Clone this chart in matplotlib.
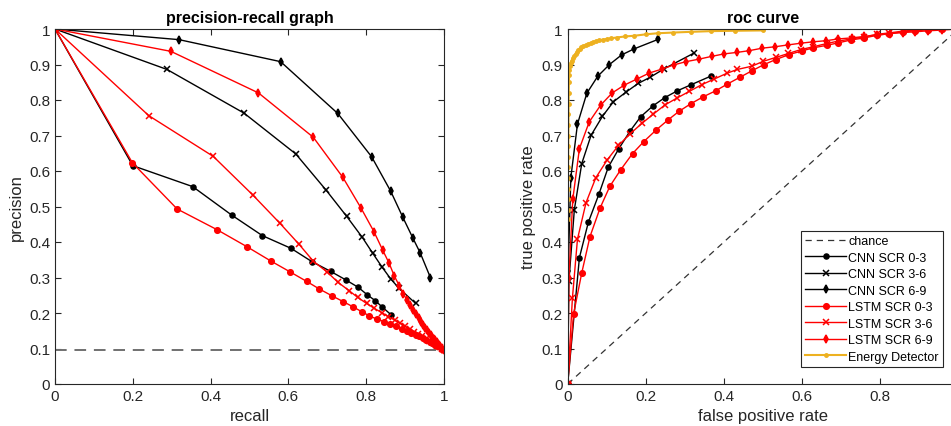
import numpy as np
import matplotlib
matplotlib.use("Agg")
import matplotlib.pyplot as plt

plt.rcParams['font.family'] = ['Liberation Sans', 'DejaVu Sans']

# precision-recall values
pr_cnn03_r = [0, 0.200, 0.354, 0.454, 0.533, 0.607, 0.660, 0.709, 0.748, 0.780, 0.803, 0.823, 0.840, 0.864]
pr_cnn03_p = [1, 0.615, 0.556, 0.476, 0.418, 0.382, 0.345, 0.317, 0.293, 0.272, 0.251, 0.235, 0.218, 0.195]

pr_cnn36_r = [0, 0.288, 0.486, 0.619, 0.697, 0.750, 0.790, 0.817, 0.841, 0.863, 0.884, 0.927]
pr_cnn36_p = [1, 0.886, 0.763, 0.648, 0.546, 0.472, 0.413, 0.368, 0.329, 0.296, 0.270, 0.227]

pr_cnn69_r = [0, 0.319, 0.580, 0.727, 0.814, 0.863, 0.894, 0.920, 0.939, 0.965]
pr_cnn69_p = [1, 0.970, 0.908, 0.762, 0.640, 0.543, 0.470, 0.411, 0.369, 0.300]

pr_lstm03_r = [0, 0.199, 0.314, 0.416, 0.493, 0.554, 0.604, 0.647, 0.679, 0.711, 0.741, 0.765,
               0.788, 0.808, 0.827, 0.846, 0.862, 0.877, 0.891, 0.904, 0.916, 0.927, 0.937,
               0.946, 0.955, 0.963, 0.970, 0.977, 0.983, 0.989, 0.994, 1.0]
pr_lstm03_p = [1, 0.623, 0.493, 0.435, 0.387, 0.347, 0.316, 0.289, 0.268, 0.249, 0.232, 0.218,
               0.204, 0.192, 0.183, 0.176, 0.169, 0.162, 0.156, 0.150, 0.144, 0.139, 0.134,
               0.129, 0.124, 0.119, 0.115, 0.111, 0.107, 0.103, 0.099, 0.095]

pr_lstm36_r = [0, 0.241, 0.407, 0.508, 0.578, 0.627, 0.664, 0.700, 0.728, 0.756, 0.778, 0.801,
               0.821, 0.840, 0.857, 0.873, 0.888, 0.901, 0.913, 0.924, 0.934, 0.944, 0.953,
               0.961, 0.969, 0.976, 0.983, 0.989, 0.995, 1.0]
pr_lstm36_p = [1, 0.756, 0.641, 0.533, 0.453, 0.394, 0.346, 0.315, 0.286, 0.263, 0.244, 0.227,
               0.213, 0.201, 0.190, 0.180, 0.171, 0.162, 0.154, 0.147, 0.140, 0.134, 0.128,
               0.122, 0.117, 0.112, 0.107, 0.103, 0.099, 0.095]

pr_lstm69_r = [0, 0.298, 0.523, 0.664, 0.740, 0.787, 0.820, 0.842, 0.859, 0.872, 0.885, 0.895,
               0.905, 0.913, 0.921, 0.928, 0.935, 0.941, 0.947, 0.952, 0.957, 0.962, 0.966,
               0.970, 0.974, 0.978, 0.981, 0.984, 0.987, 0.990, 0.993, 0.996, 1.0]
pr_lstm69_p = [1, 0.937, 0.820, 0.695, 0.582, 0.495, 0.429, 0.378, 0.340, 0.305, 0.277, 0.254,
               0.237, 0.222, 0.209, 0.197, 0.186, 0.176, 0.167, 0.159, 0.152, 0.145, 0.139,
               0.133, 0.128, 0.123, 0.118, 0.114, 0.110, 0.106, 0.102, 0.099, 0.095]

pr_chance = 0.095

# roc values
roc_cnn03_f = [0, 0.030, 0.053, 0.080, 0.104, 0.131, 0.160, 0.187, 0.219, 0.249, 0.281, 0.316, 0.366]
roc_cnn03_t = [0, 0.356, 0.456, 0.535, 0.611, 0.663, 0.713, 0.753, 0.784, 0.807, 0.826, 0.843, 0.867]

roc_cnn36_f = [0, 0.003, 0.017, 0.036, 0.060, 0.089, 0.117, 0.149, 0.181, 0.211, 0.247, 0.323]
roc_cnn36_t = [0, 0.289, 0.491, 0.621, 0.701, 0.754, 0.795, 0.822, 0.847, 0.864, 0.888, 0.932]

roc_cnn69_f = [0, 0.001, 0.008, 0.025, 0.049, 0.077, 0.107, 0.138, 0.170, 0.232]
roc_cnn69_t = [0, 0.318, 0.581, 0.732, 0.819, 0.867, 0.900, 0.927, 0.944, 0.971]

roc_lstm03_f = [0, 0.015, 0.036, 0.057, 0.083, 0.108, 0.136, 0.166, 0.195, 0.226, 0.256, 0.285,
                0.316, 0.347, 0.379, 0.409, 0.441, 0.473, 0.503, 0.533, 0.567, 0.599, 0.629,
                0.663, 0.693, 0.725, 0.760, 0.791, 0.824, 0.858, 0.889, 0.923, 0.958, 1.0]
roc_lstm03_t = [0, 0.197, 0.313, 0.415, 0.496, 0.557, 0.604, 0.649, 0.683, 0.715, 0.743, 0.768,
                0.790, 0.809, 0.826, 0.845, 0.864, 0.883, 0.900, 0.914, 0.928, 0.938, 0.947,
                0.954, 0.961, 0.969, 0.975, 0.982, 0.987, 0.992, 0.995, 0.998, 0.999, 1.0]

roc_lstm36_f = [0, 0.012, 0.025, 0.047, 0.072, 0.101, 0.130, 0.160, 0.191, 0.219, 0.249, 0.279,
                0.311, 0.343, 0.375, 0.407, 0.434, 0.471, 0.501, 0.533, 0.565, 0.597, 0.629,
                0.663, 0.693, 0.727, 0.760, 0.791, 0.824, 0.858, 0.889, 0.923, 0.958, 1.0]
roc_lstm36_t = [0, 0.241, 0.408, 0.511, 0.581, 0.631, 0.672, 0.705, 0.735, 0.760, 0.786, 0.805,
                0.824, 0.843, 0.859, 0.875, 0.886, 0.895, 0.909, 0.920, 0.931, 0.942, 0.950,
                0.959, 0.966, 0.972, 0.978, 0.985, 0.989, 0.994, 0.997, 0.999, 1.0, 1.0]

roc_lstm69_f = [0, 0.003, 0.013, 0.030, 0.055, 0.084, 0.114, 0.145, 0.177, 0.209, 0.241, 0.272,
                0.303, 0.336, 0.369, 0.401, 0.433, 0.465, 0.498, 0.531, 0.563, 0.597, 0.629,
                0.661, 0.693, 0.727, 0.760, 0.791, 0.825, 0.858, 0.889, 0.923, 0.958, 1.0]
roc_lstm69_t = [0, 0.298, 0.520, 0.663, 0.738, 0.785, 0.820, 0.842, 0.859, 0.876, 0.887, 0.899,
                0.908, 0.915, 0.923, 0.930, 0.934, 0.939, 0.946, 0.950, 0.955, 0.960, 0.964,
                0.967, 0.972, 0.975, 0.979, 0.983, 0.987, 0.990, 0.992, 0.995, 0.997, 1.0]

roc_energy_f = [0.0, 0.0002, 0.0004, 0.0006, 0.0008, 0.0010, 0.0012, 0.0014, 0.0016, 0.0018,
                0.0020, 0.0023, 0.0026, 0.0030, 0.0035, 0.0040, 0.006, 0.008, 0.010, 0.013,
                0.017, 0.020, 0.023, 0.027, 0.031, 0.035, 0.040, 0.046, 0.053, 0.060, 0.066,
                0.073, 0.080, 0.090, 0.100, 0.112, 0.125, 0.147, 0.171, 0.200, 0.230, 0.270,
                0.315, 0.367, 0.428, 0.501]
roc_energy_t = [0.465, 0.49, 0.52, 0.55, 0.58, 0.61, 0.64, 0.67, 0.70, 0.73,
                0.76, 0.79, 0.82, 0.85, 0.87, 0.885, 0.895, 0.905, 0.911, 0.918,
                0.925, 0.930, 0.935, 0.940, 0.944, 0.948, 0.952, 0.955, 0.958, 0.961, 0.963,
                0.966, 0.968, 0.970, 0.972, 0.974, 0.976, 0.979, 0.981, 0.985, 0.988, 0.990,
                0.992, 0.994, 0.995, 0.996]

labels = ['CNN SCR 0-3', 'CNN SCR 3-6', 'CNN SCR 6-9',
          'LSTM SCR 0-3', 'LSTM SCR 3-6', 'LSTM SCR 6-9']

RED = '#ff0000'
YEL = '#edb120'
AX = '#262626'
styles = [('k', 'o', 3.6), ('k', 'x', 5), ('k', 'd', 4),
          (RED, 'o', 4), (RED, 'x', 5), (RED, 'd', 4)]


def style_axes(ax):
    ax.tick_params(direction='in', length=4, width=0.8, colors=AX, labelsize=11,
                   top=True, right=True, labelcolor=AX)
    for s in ax.spines.values():
        s.set_color(AX)
        s.set_linewidth(0.8)


fig = plt.figure(figsize=(9.51, 4.27), dpi=100)

# precision-recall graph
ax1 = fig.add_axes([55/951, 42/427, 389/951, 355/427])
pr_r = [pr_cnn03_r, pr_cnn36_r, pr_cnn69_r, pr_lstm03_r, pr_lstm36_r, pr_lstm69_r]
pr_p = [pr_cnn03_p, pr_cnn36_p, pr_cnn69_p, pr_lstm03_p, pr_lstm36_p, pr_lstm69_p]
ax1.plot([0, 1], [pr_chance, pr_chance], color='#707070', lw=1.4, dashes=(6, 4))
for (c, m, ms), r, p in zip(styles, pr_r, pr_p):
    ax1.plot(r, p, color=c, marker=m, ms=ms, lw=1.0, mew=1.1)
ax1.set_xlim(0, 1)
ax1.set_ylim(0, 1)
ax1.set_xticks(np.arange(0, 1.01, 0.2))
ax1.set_yticks(np.arange(0, 1.01, 0.1))
ax1.xaxis.set_major_formatter(matplotlib.ticker.FormatStrFormatter('%g'))
ax1.yaxis.set_major_formatter(matplotlib.ticker.FormatStrFormatter('%g'))
style_axes(ax1)
ax1.set_xlabel('recall', fontsize=12, color=AX)
ax1.set_ylabel('precision', fontsize=12, color=AX)
ax1.set_title('precision-recall graph', fontsize=11.5, fontweight='bold', pad=5)

# roc curve
ax2 = fig.add_axes([567.7/951, 42/427, 390.5/951, 355/427])
roc_f = [roc_cnn03_f, roc_cnn36_f, roc_cnn69_f, roc_lstm03_f, roc_lstm36_f, roc_lstm69_f]
roc_t = [roc_cnn03_t, roc_cnn36_t, roc_cnn69_t, roc_lstm03_t, roc_lstm36_t, roc_lstm69_t]
ax2.plot([0, 1], [0, 1], color='#333333', lw=0.9, dashes=(5, 4), label='chance')
for (c, m, ms), f, t, lab in zip(styles, roc_f, roc_t, labels):
    ax2.plot(f, t, color=c, marker=m, ms=ms, lw=1.0, mew=1.1, label=lab)
ax2.plot(roc_energy_f, roc_energy_t, color=YEL, marker='.', ms=5, lw=1.5,
         label='Energy Detector')
ax2.set_xlim(0, 1)
ax2.set_ylim(0, 1)
ax2.set_xticks(np.arange(0, 0.81, 0.2))
ax2.set_yticks(np.arange(0, 1.01, 0.1))
ax2.xaxis.set_major_formatter(matplotlib.ticker.FormatStrFormatter('%g'))
ax2.yaxis.set_major_formatter(matplotlib.ticker.FormatStrFormatter('%g'))
style_axes(ax2)
ax2.set_xlabel('false positive rate', fontsize=12, color=AX)
ax2.set_ylabel('true positive rate', fontsize=12, color=AX)
ax2.set_title('roc curve', fontsize=11.5, fontweight='bold', pad=5)
leg = ax2.legend(loc='lower right', bbox_to_anchor=(0.961, 0.048), borderaxespad=0,
                 fontsize=9, fancybox=False, handlelength=3.3, handletextpad=0.15,
                 labelspacing=0.36, borderpad=0.35, framealpha=1, numpoints=1)
leg.get_frame().set_edgecolor(AX)
leg.get_frame().set_linewidth(0.8)

plt.savefig('out.png', dpi=100)
